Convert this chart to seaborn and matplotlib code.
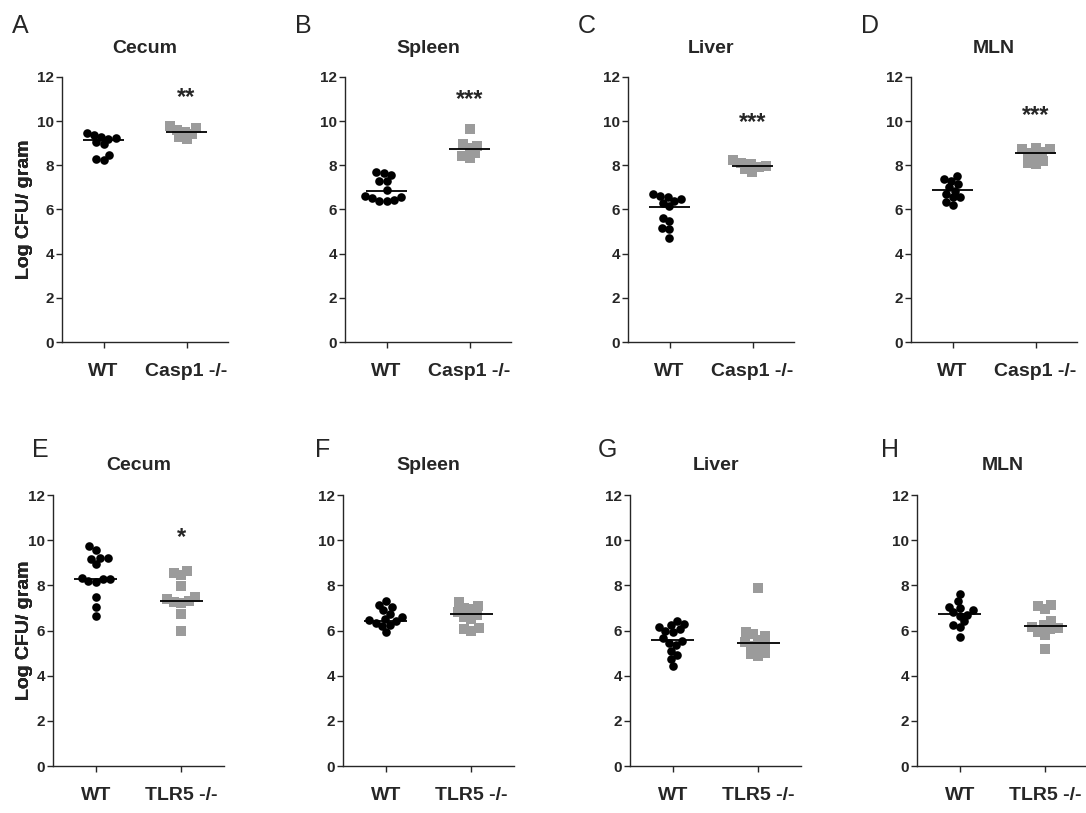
import numpy as np
import pandas as pd
import matplotlib
matplotlib.use("Agg")
import matplotlib.pyplot as plt
from matplotlib.collections import PathCollection
import seaborn as sns

# ---------------- data ----------------
letters = ["A", "B", "C", "D", "E", "F", "G", "H"]
tissues = ["Cecum", "Spleen", "Liver", "MLN", "Cecum", "Spleen", "Liver", "MLN"]
ko_names = ["Casp1 -/-"] * 4 + ["TLR5 -/-"] * 4
wt_name = "WT"

a_wt = [9.45, 9.37, 9.30, 9.25, 9.20, 9.05, 8.95, 8.47, 8.29, 8.24]
a_ko = [9.78, 9.70, 9.62, 9.52, 9.40, 9.30, 9.18]
b_wt = [7.69, 7.65, 7.54, 7.30, 7.27, 6.90, 6.62, 6.58, 6.50, 6.45, 6.40, 6.37]
b_ko = [9.64, 8.95, 8.88, 8.78, 8.55, 8.40, 8.32]
c_wt = [6.70, 6.62, 6.55, 6.48, 6.40, 6.30, 6.15, 5.62, 5.47, 5.15, 5.10, 4.72]
c_ko = [8.22, 8.12, 8.05, 7.98, 7.92, 7.85, 7.72]
d_wt = [7.50, 7.40, 7.30, 7.15, 7.00, 6.85, 6.70, 6.55, 6.55, 6.35, 6.20]
d_ko = [8.80, 8.75, 8.72, 8.62, 8.58, 8.45, 8.20, 8.10, 8.08]
e_wt = [9.72, 9.55, 9.22, 9.18, 9.20, 8.95, 8.32, 8.30, 8.28, 8.20, 8.15, 7.50, 7.03, 6.62]
e_ko = [8.65, 8.55, 8.45, 7.95, 7.50, 7.40, 7.30, 7.25, 7.20, 6.75, 6.00]
f_wt = [7.30, 7.15, 7.05, 6.90, 6.75, 6.60, 6.50, 6.45, 6.40, 6.35, 6.25, 6.20, 5.92]
f_ko = [7.25, 7.10, 7.00, 6.95, 6.80, 6.70, 6.60, 6.50, 6.10, 6.05, 6.00]
g_wt = [6.40, 6.30, 6.25, 6.15, 6.05, 6.00, 5.95, 5.65, 5.55, 5.45, 5.35, 5.10, 4.90, 4.75, 4.45]
g_ko = [7.90, 5.95, 5.85, 5.75, 5.60, 5.50, 5.40, 5.30, 5.25, 5.00, 4.95, 4.85]
h_wt = [7.60, 7.30, 7.05, 7.00, 6.90, 6.80, 6.70, 6.65, 6.40, 6.25, 6.15, 5.70]
h_ko = [7.15, 7.10, 6.95, 6.40, 6.25, 6.15, 6.10, 6.05, 5.95, 5.80, 5.20]

# central line (group summary) values: [WT, KO]
center_lines = [
    [9.15, 9.52], [6.85, 8.72], [6.11, 7.96], [6.89, 8.57],
    [8.28, 7.31], [6.44, 6.71], [5.60, 5.45], [6.75, 6.18],
]
stars = ["**", "***", "***", "***", "*", "", "", ""]
star_y = [11.07, 10.96, 9.92, 10.24, 10.11, None, None, None]

wt_sets = [a_wt, b_wt, c_wt, d_wt, e_wt, f_wt, g_wt, h_wt]
ko_sets = [a_ko, b_ko, c_ko, d_ko, e_ko, f_ko, g_ko, h_ko]
y_ticks = [0, 2, 4, 6, 8, 10, 12]

# ---------------- style ----------------
sns.set_style("ticks")
plt.rcParams["font.family"] = ["Liberation Sans", "DejaVu Sans"]

W, H = 1086, 813
fig = plt.figure(figsize=(W / 100, H / 100), dpi=100)

# axes boxes in pixels: (left, top, width, height)
boxes = [
    (62, 77, 166, 265), (345, 77, 166, 265), (628, 77, 166, 265), (911, 77, 166, 265),
    (53, 495, 171, 271), (343, 495, 171, 271), (630, 495, 171, 271), (917, 495, 171, 271),
]
letter_pos = [
    (12, 33), (295, 33), (578, 33), (861, 33),
    (32, 457), (315, 457), (598, 457), (881, 457),
]
gray = "#9b9b9b"
axes = []

for i in range(8):
    l, t, w, h = boxes[i]
    ax = fig.add_axes([l / W, 1 - (t + h) / H, w / W, h / H])
    axes.append(ax)
    order = [wt_name, ko_names[i]]
    wt = wt_sets[i]
    ko = ko_sets[i]
    # compact swarm (Prism-like, markers may touch)
    sns.swarmplot(x=[wt_name] * len(wt), y=wt, order=order, color="black",
                  marker="o", size=5.1, linewidth=0, ax=ax)
    sns.swarmplot(x=[ko_names[i]] * len(ko), y=ko, order=order, color=gray,
                  marker="s", size=5.3, linewidth=0, ax=ax)
    pos = np.arange(len(order))
    ax.hlines(center_lines[i], pos - 0.25, pos + 0.25, color="black", lw=1.3, zorder=5)

    ax.set_xlim(-0.5, 1.5)
    ax.set_ylim(0, 12)
    ax.set_yticks(y_ticks)
    ax.set_yticklabels([str(v) for v in y_ticks], fontsize=11, fontweight="bold")
    ax.set_xticks(pos)
    ax.set_xticklabels(order, fontsize=14, fontweight="bold")
    ax.tick_params(axis="x", length=4, width=1.0, pad=11)
    ax.tick_params(axis="y", length=4, width=1.0, pad=1.5)
    for s in ["top", "right"]:
        ax.spines[s].set_visible(False)
    for s in ["left", "bottom"]:
        ax.spines[s].set_linewidth(1.0)
    ax.set_xlabel("")
    ax.set_ylabel("Log CFU/ gram", fontsize=14, fontweight="bold")
    ax.yaxis.set_label_coords((33 - l) / w, 0.5)
    ax.set_title(tissues[i], fontsize=14, fontweight="bold", pad=17 if i < 4 else 18)
    if stars[i]:
        ax.text(1, star_y[i], stars[i], ha="center", va="center",
                fontsize=17, fontweight="bold")

    lx, ly = letter_pos[i]
    fig.text(lx / W, 1 - ly / H, letters[i], fontsize=18, ha="left", va="baseline")

# freeze swarm layout, then show the markers at their real size (overlapping like Prism)
fig.canvas.draw()
for ax in axes:
    for coll in ax.collections:
        if isinstance(coll, PathCollection) and "draw" in coll.__dict__:
            offs = np.asarray(coll.get_offsets()).copy()
            del coll.draw
            coll.set_offsets(offs)
            n = len(coll.get_sizes())
            is_sq = coll.get_paths()[0].vertices.shape[0] <= 6
            coll.set_sizes(np.full(max(n, 1), 6.6 ** 2 if is_sq else 6.2 ** 2))

fig.savefig("out.png", dpi=100)
